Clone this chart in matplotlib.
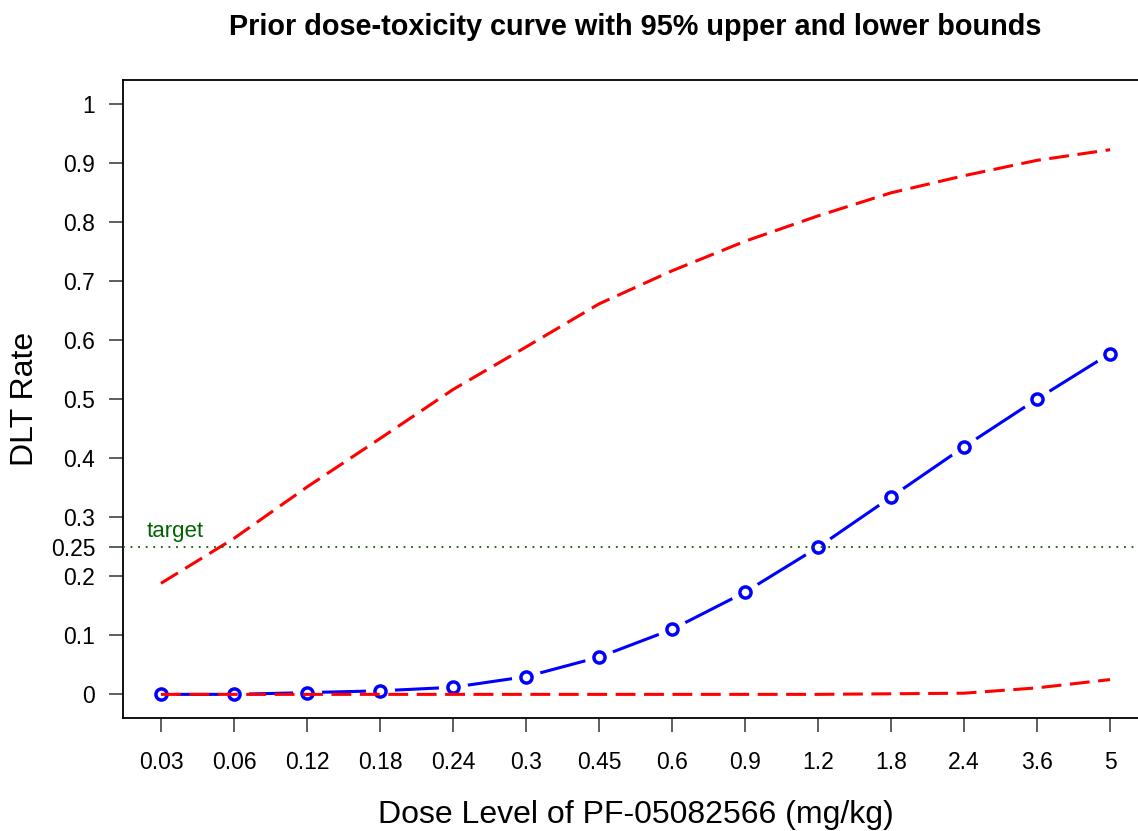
#!/usr/bin/env python3
"""Prior dose-toxicity curve with 95% bounds (R-style base graphics look)."""

import numpy as np
import matplotlib.pyplot as plt


DOSE_LABELS = ["0.03", "0.06", "0.12", "0.18", "0.24", "0.3", "0.45",
               "0.6", "0.9", "1.2", "1.8", "2.4", "3.6", "5"]
PRIOR = [0.0, 0.0, 0.003, 0.006, 0.012, 0.030, 0.063,
         0.110, 0.173, 0.249, 0.334, 0.419, 0.500, 0.577]
UPPER = [0.188, 0.264, 0.351, 0.433, 0.516, 0.588, 0.661,
         0.717, 0.767, 0.810, 0.849, 0.878, 0.904, 0.922]
LOWER = [0.0, 0.0, 0.0, 0.0, 0.0, 0.0, 0.0,
         0.0, 0.0, 0.0, 0.001, 0.002, 0.011, 0.025]
Y_TICKS = [0, 0.1, 0.2, 0.25, 0.3, 0.4, 0.5, 0.6, 0.7, 0.8, 0.9, 1]
Y_TICK_LABELS = ["0", "0.1", "0.2", "0.25", "0.3", "0.4", "0.5",
                 "0.6", "0.7", "0.8", "0.9", "1"]
TARGET = 0.25


def main():
    plt.rcParams.update({"font.family": ["Liberation Sans", "DejaVu Sans"]})
    W, H = 1138, 831
    fig = plt.figure(figsize=(W / 100, H / 100), dpi=100)
    left, right, top, bottom = 123, 1148, 80, 718
    ax = fig.add_axes([left / W, 1 - bottom / H, (right - left) / W, (bottom - top) / H])

    x = np.arange(len(DOSE_LABELS))

    # type="b" look: line with gaps around the open circles
    ax.plot(x, PRIOR, color="blue", lw=2.2, zorder=2)
    ax.plot(x, PRIOR, ls="none", marker="o", ms=21, mfc="white", mec="none", zorder=2.1)
    ax.plot(x, PRIOR, ls="none", marker="o", ms=8, mfc="white", mec="blue", mew=2.5, zorder=2.2)

    for ys in (UPPER, LOWER):
        ax.plot(x, ys, color="red", lw=2.2, dashes=(6.5, 2.8), zorder=3)

    ax.axhline(TARGET, color="darkgreen", lw=1.3, ls=(0, (1, 3.2)), zorder=4)
    ax.text(-0.196, TARGET + 0.016, "target", color="darkgreen", fontsize=16,
            ha="left", va="baseline")

    ax.set_xlim(-0.52, len(x) - 1 + 0.52)
    ax.set_ylim(-0.04, 1.04)
    ax.set_xticks(x)
    ax.set_xticklabels(DOSE_LABELS)
    ax.set_yticks(Y_TICKS)
    ax.set_yticklabels(Y_TICK_LABELS)
    ax.tick_params(axis="both", direction="out", length=10, width=1.1,
                   labelsize=16.5, color="#333333")
    ax.tick_params(axis="x", pad=14)
    ax.tick_params(axis="y", pad=10)
    for sp in ax.spines.values():
        sp.set_linewidth(1.3)

    cx = (left + right) / 2 / W
    fig.text(cx, 1 - 35 / H, "Prior dose-toxicity curve with 95% upper and lower bounds",
             ha="center", va="baseline", fontsize=20.8, fontweight="bold")
    fig.text(cx, 1 - 823 / H, "Dose Level of PF-05082566 (mg/kg)",
             ha="center", va="baseline", fontsize=23)
    fig.text(25 / W, 1 - 399 / H, "DLT Rate", rotation=90,
             ha="center", va="center", fontsize=23)

    fig.savefig("out.png", dpi=100)
    plt.close(fig)


if __name__ == "__main__":
    main()
